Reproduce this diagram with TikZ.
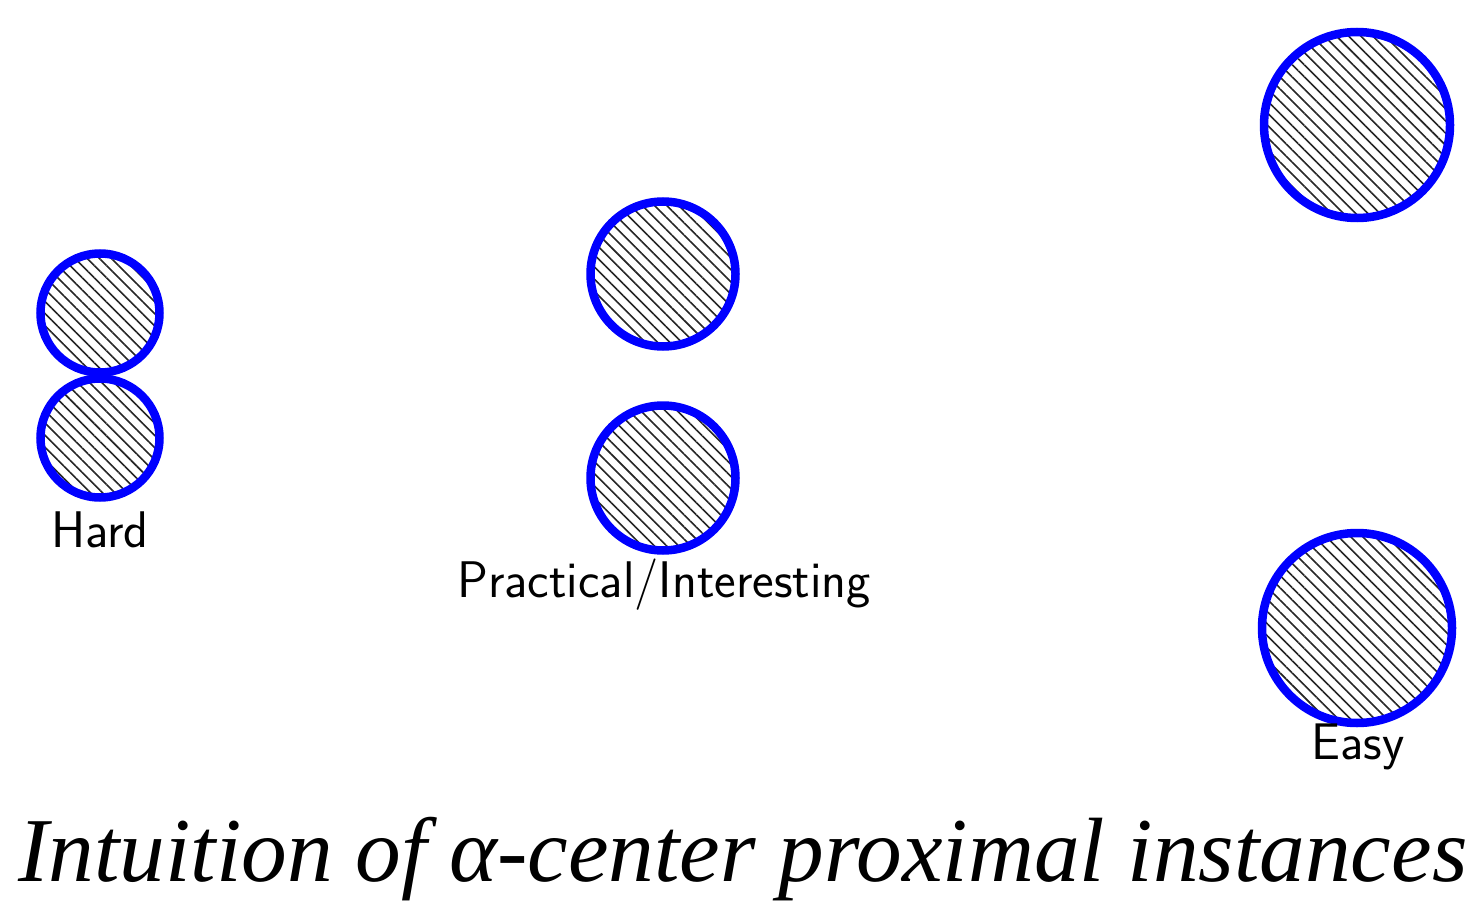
\documentclass[tikz,border=0pt]{standalone}
\usepackage{fontspec}
\newfontfamily\titlefont{Liberation Serif}
\usetikzlibrary{patterns.meta}
\begin{document}
\begin{tikzpicture}[x=1pt,y=-1pt,
  inst/.style={draw=blue, line width=8.5pt,
    pattern={Lines[angle=-45, distance=8.6pt, line width=1.6pt]}, pattern color=black!85},
  lab/.style={inner sep=0pt, anchor=base, font=\sffamily\fontsize{51.5}{55}\selectfont}]
\useasboundingbox (0,0) rectangle (1469,901);
% Hard
\path[inst] (100,313) circle (59.5);
\path[inst] (100,438) circle (59.5);
\node[lab] (hard) at (100,547) {Hard};
% Practical
\path[inst] (663,274) circle (72.5);
\path[inst] (663,478) circle (72.5);
\node[lab] (prac) at (664,597) {Practical/Interesting};
% Easy
\path[inst] (1357,125) circle (93);
\path[inst] (1357,628) circle (95);
\node[lab] (easy) at (1358,759) {Easy};
% title
\node[inner sep=0pt, anchor=base west, font=\titlefont\itshape\fontsize{91.3}{95}\selectfont] (title) at (18,881) {Intuition of α-center proximal instances};
\end{tikzpicture}
\end{document}
